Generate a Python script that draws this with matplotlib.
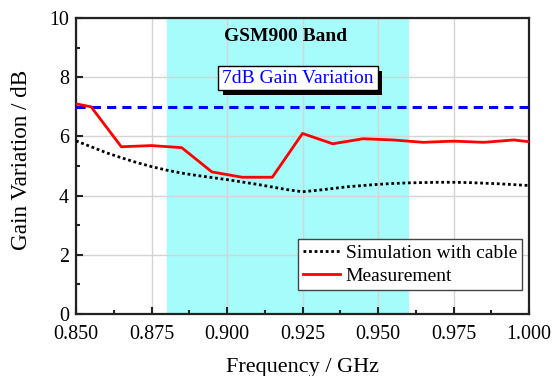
import matplotlib.pyplot as plt
import matplotlib.patheffects as pe
from matplotlib.ticker import MultipleLocator

plt.rcParams['font.family'] = ['Liberation Serif', 'DejaVu Serif']

# simulation with cable (every 5 MHz)
sim_freq = [0.850, 0.855, 0.860, 0.865, 0.870, 0.875, 0.880, 0.885, 0.890, 0.895,
            0.900, 0.905, 0.910, 0.915, 0.920, 0.925, 0.930, 0.935, 0.940, 0.945,
            0.950, 0.955, 0.960, 0.965, 0.970, 0.975, 0.980, 0.985, 0.990, 0.995, 1.000]
sim_gain = [5.85, 5.65, 5.45, 5.28, 5.12, 4.98, 4.86, 4.76, 4.68, 4.61,
            4.54, 4.46, 4.38, 4.29, 4.20, 4.13, 4.18, 4.24, 4.30, 4.34,
            4.38, 4.41, 4.43, 4.44, 4.45, 4.45, 4.44, 4.42, 4.40, 4.37, 4.34]

# measurement
meas_freq = [0.850, 0.855, 0.865, 0.875, 0.885, 0.895, 0.905, 0.915, 0.925, 0.935,
             0.945, 0.955, 0.965, 0.975, 0.985, 0.995, 1.000]
meas_gain = [7.10, 7.00, 5.65, 5.69, 5.62, 4.80, 4.62, 4.62, 6.10, 5.75,
             5.92, 5.88, 5.80, 5.84, 5.80, 5.88, 5.82]

band = (0.88, 0.96)
limit = 7.0

fig = plt.figure(figsize=(5.52, 3.76), dpi=100)
ax = fig.add_axes([76/552, 1 - 314/376, 453/552, 296/376])

ax.axvspan(band[0], band[1], color='#a6fbfb', zorder=0)
ax.grid(True, color='#d4d4d4', lw=1.0, zorder=1)
ax.set_axisbelow(True)

ax.axhline(limit, color='#0000ff', lw=2.2, ls=(0, (3, 2)), zorder=3)
ax.plot(sim_freq, sim_gain, color='black', lw=2.0, ls=(0, (1, 1)),
        label='Simulation with cable', zorder=4)
ax.plot(meas_freq, meas_gain, color='red', lw=2.0, label='Measurement', zorder=5)

ax.set_xlim(0.85, 1.0)
ax.set_ylim(0, 10)
ax.xaxis.set_major_locator(MultipleLocator(0.025))
ax.xaxis.set_minor_locator(MultipleLocator(0.0125))
ax.yaxis.set_major_locator(MultipleLocator(2))
ax.yaxis.set_minor_locator(MultipleLocator(1))
ax.xaxis.set_major_formatter(lambda v, p: f'{v:.3f}')
ax.tick_params(which='both', direction='in', top=False, right=False,
               labelsize=14.4, width=1.5, color='#222222')
ax.tick_params(which='major', length=5)
ax.tick_params(axis='x', pad=8)
ax.tick_params(axis='y', pad=5)
ax.tick_params(which='minor', length=3)
for s in ax.spines.values():
    s.set_linewidth(1.6)
    s.set_color('#222222')

ax.set_xlabel('Frequency / GHz', fontsize=16, labelpad=10)
ax.set_ylabel('Gain Variation / dB', fontsize=16.7)
ax.yaxis.set_label_coords(-0.097, 0.52)

ax.text(0.9195, 9.37, 'GSM900 Band', fontsize=14, fontweight='bold',
        ha='center', va='center', zorder=6)
t = ax.text(0.9235, 7.97, '7dB Gain Variation', fontsize=14, color='#0000ff',
            ha='center', va='center', zorder=6,
            bbox=dict(boxstyle='square,pad=0.2', fc='white', ec='black', lw=1.0,
                      path_effects=[pe.withSimplePatchShadow(offset=(3.5, -3.5),
                                                             shadow_rgbFace='black',
                                                             alpha=1.0)]))

leg = ax.legend(loc='lower right', fontsize=14, frameon=True, fancybox=False,
                edgecolor='#444444', framealpha=1, handlelength=1.9,
                handletextpad=0.3, borderpad=0.25, labelspacing=0.3,
                borderaxespad=0, bbox_to_anchor=(0.9845, 0.081))
leg.get_frame().set_linewidth(1.0)

fig.savefig('out.png', dpi=100)
